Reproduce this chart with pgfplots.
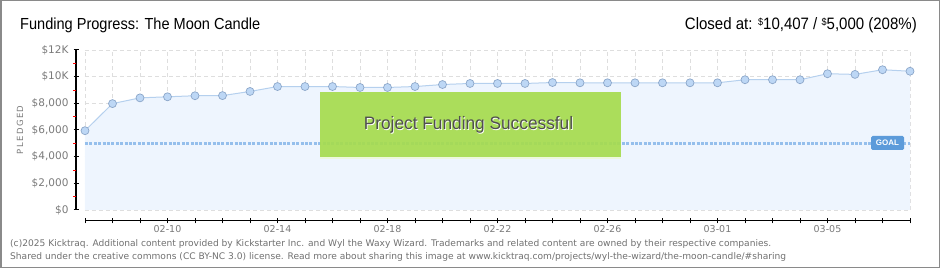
\documentclass[border=0pt]{standalone}
\usepackage{fontspec}
\setmainfont{Liberation Sans}
\newfontfamily\titlefont[FakeStretch=0.91]{Liberation Sans}
\newfontfamily\boxfont[FakeStretch=0.96]{Liberation Sans}
\newfontfamily\footfont{DejaVu Sans}
\newfontfamily\tickfont{DejaVu Sans}
\usepackage{pgfplots}
\pgfplotsset{compat=1.18}
\definecolor{fillblue}{HTML}{EEF5FE}
\definecolor{lineblue}{HTML}{B5D0EE}
\definecolor{markfill}{HTML}{BDD7F5}
\definecolor{markdraw}{HTML}{8BA6C9}
\definecolor{goalblue}{HTML}{95BFEC}
\definecolor{goalbox}{HTML}{5C9BDA}
\definecolor{gridgray}{HTML}{DEDEDE}
\definecolor{ticktext}{HTML}{7A7A7A}
\definecolor{foottext}{HTML}{707070}
\definecolor{framegray}{HTML}{8A8A8A}
\definecolor{okgreen}{HTML}{A6DC4E}
\definecolor{oktext}{HTML}{4F4F4F}
\begin{document}
\begin{tikzpicture}[x=1pt,y=1pt]
\useasboundingbox (0,0) rectangle (940,270);
\begin{axis}[
  at={(85pt,60pt)}, anchor=south west,
  scale only axis, width=825pt, height=160pt,
  xmin=0, xmax=30, ymin=0, ymax=12000,
  scaled y ticks=false,
  axis line style={draw=none},
  major tick length=0pt,
  xtick={0,...,30},
  xticklabels={,,,02-10,,,,02-14,,,,02-18,,,,02-22,,,,02-26,,,,03-01,,,,03-05,,,},
  ytick={0,2000,4000,6000,8000,10000,12000},
  yticklabels={{\$0},{\$2,000},{\$4,000},{\$6,000},{\$8,000},{\$10K},{\$12K}},
  grid=major,
  grid style={gridgray, line width=0.8pt, dash pattern=on 4pt off 3pt},
  yticklabel style={xshift=-13pt, font=\tickfont\fontsize{10.5}{12}\selectfont, text=ticktext},
  xticklabel style={yshift=-12pt, font=\tickfont\fontsize{9.5}{12}\selectfont, text=ticktext},
  ylabel={P\,L\,E\,D\,G\,E\,D},
  every axis y label/.style={at={(axis description cs:0,0.5)}, xshift=-65pt, rotate=90, anchor=center, font=\tickfont\fontsize{8.5}{10}\selectfont, text=ticktext},
  clip=false,
]
\addplot[fill=fillblue, draw=none, forget plot] coordinates {
(0,5950)(1,7980)(2,8410)(3,8490)(4,8570)(5,8580)(6,8890)(7,9260)(8,9260)(9,9260)
(10,9190)(11,9190)(12,9260)(13,9410)(14,9490)(15,9490)(16,9490)(17,9560)(18,9540)(19,9540)
(20,9540)(21,9540)(22,9540)(23,9540)(24,9770)(25,9770)(26,9770)(27,10220)(28,10170)(29,10520)(30,10407)
} \closedcycle;
\addplot[goalblue, line width=2.6pt, dash pattern=on 3pt off 1.4pt] coordinates {(0,5000)(30,5000)};
\addplot[lineblue, line width=1pt, mark=*, mark size=4pt, mark options={fill=markfill, draw=markdraw, line width=0.7pt}] coordinates {
(0,5950)(1,7980)(2,8410)(3,8490)(4,8570)(5,8580)(6,8890)(7,9260)(8,9260)(9,9260)
(10,9190)(11,9190)(12,9260)(13,9410)(14,9490)(15,9490)(16,9490)(17,9560)(18,9540)(19,9540)
(20,9540)(21,9540)(22,9540)(23,9540)(24,9770)(25,9770)(26,9770)(27,10220)(28,10170)(29,10520)(30,10407)
};
\end{axis}
% axis lines
\draw[black, line width=1.2pt] (76,60) -- (76,220);
\foreach \k in {0,...,6} {\draw[black, line width=1pt] (73.5,60+\k*26.667) -- (79,60+\k*26.667);}
\foreach \k in {0,...,5} {\draw[red, line width=0.8pt] (73,73.333+\k*26.667) -- (76,73.333+\k*26.667);}
\draw[black, line width=1pt] (85,49) -- (910.5,49);
\foreach \i in {0,...,30} {\draw[black, line width=1pt] (85+\i*27.5,46.5) -- (85+\i*27.5,52);}
% success box
\fill[okgreen, opacity=0.92] (320,112) rectangle (621,178);
\draw[white!80!okgreen, line width=1.2pt] (320,112) -- (621,112);
\node[text=white, font=\boxfont\fontsize{18}{20}\selectfont] at (469.3,144.2) {Project Funding Successful};
\node[text=oktext, font=\boxfont\fontsize{18}{20}\selectfont] at (468.5,145) {Project Funding Successful};
% goal label
\fill[goalbox, rounded corners=1.5pt] (871,120) rectangle (904,134);
\node[text=white, font=\fontsize{8}{9}\selectfont\bfseries] at (887.5,127) {GOAL};
% titles
\node[anchor=base west, font=\titlefont\fontsize{16}{18}\selectfont, inner sep=0pt] at (20,240) {Funding Progress: The Moon Candle};
\node[anchor=base east, font=\titlefont\fontsize{16.5}{18}\selectfont, inner sep=0pt] at (917,240) {Closed at: \raisebox{4pt}{\fontsize{10}{10}\selectfont\$}10,407 / \raisebox{4pt}{\fontsize{10}{10}\selectfont\$}5,000 (208\%)};
% footer
\node[anchor=base west, font=\footfont\fontsize{9.1}{10}\selectfont, text=foottext, inner sep=0pt] at (10,23) {(c)2025 Kicktraq. Additional content provided by Kickstarter Inc. and Wyl the Waxy Wizard. Trademarks and related content are owned by their respective companies.};
\node[anchor=base west, font=\footfont\fontsize{9.1}{10}\selectfont, text=foottext, inner sep=0pt] at (10,10.5) {Shared under the creative commons (CC BY-NC 3.0) license. Read more about sharing this image at www.kicktraq.com/projects/wyl-the-wizard/the-moon-candle/\#sharing};
% frame
\draw[framegray, line width=1.5pt] (0.75,2.5) rectangle (939.25,269.25);
\end{tikzpicture}
\end{document}
